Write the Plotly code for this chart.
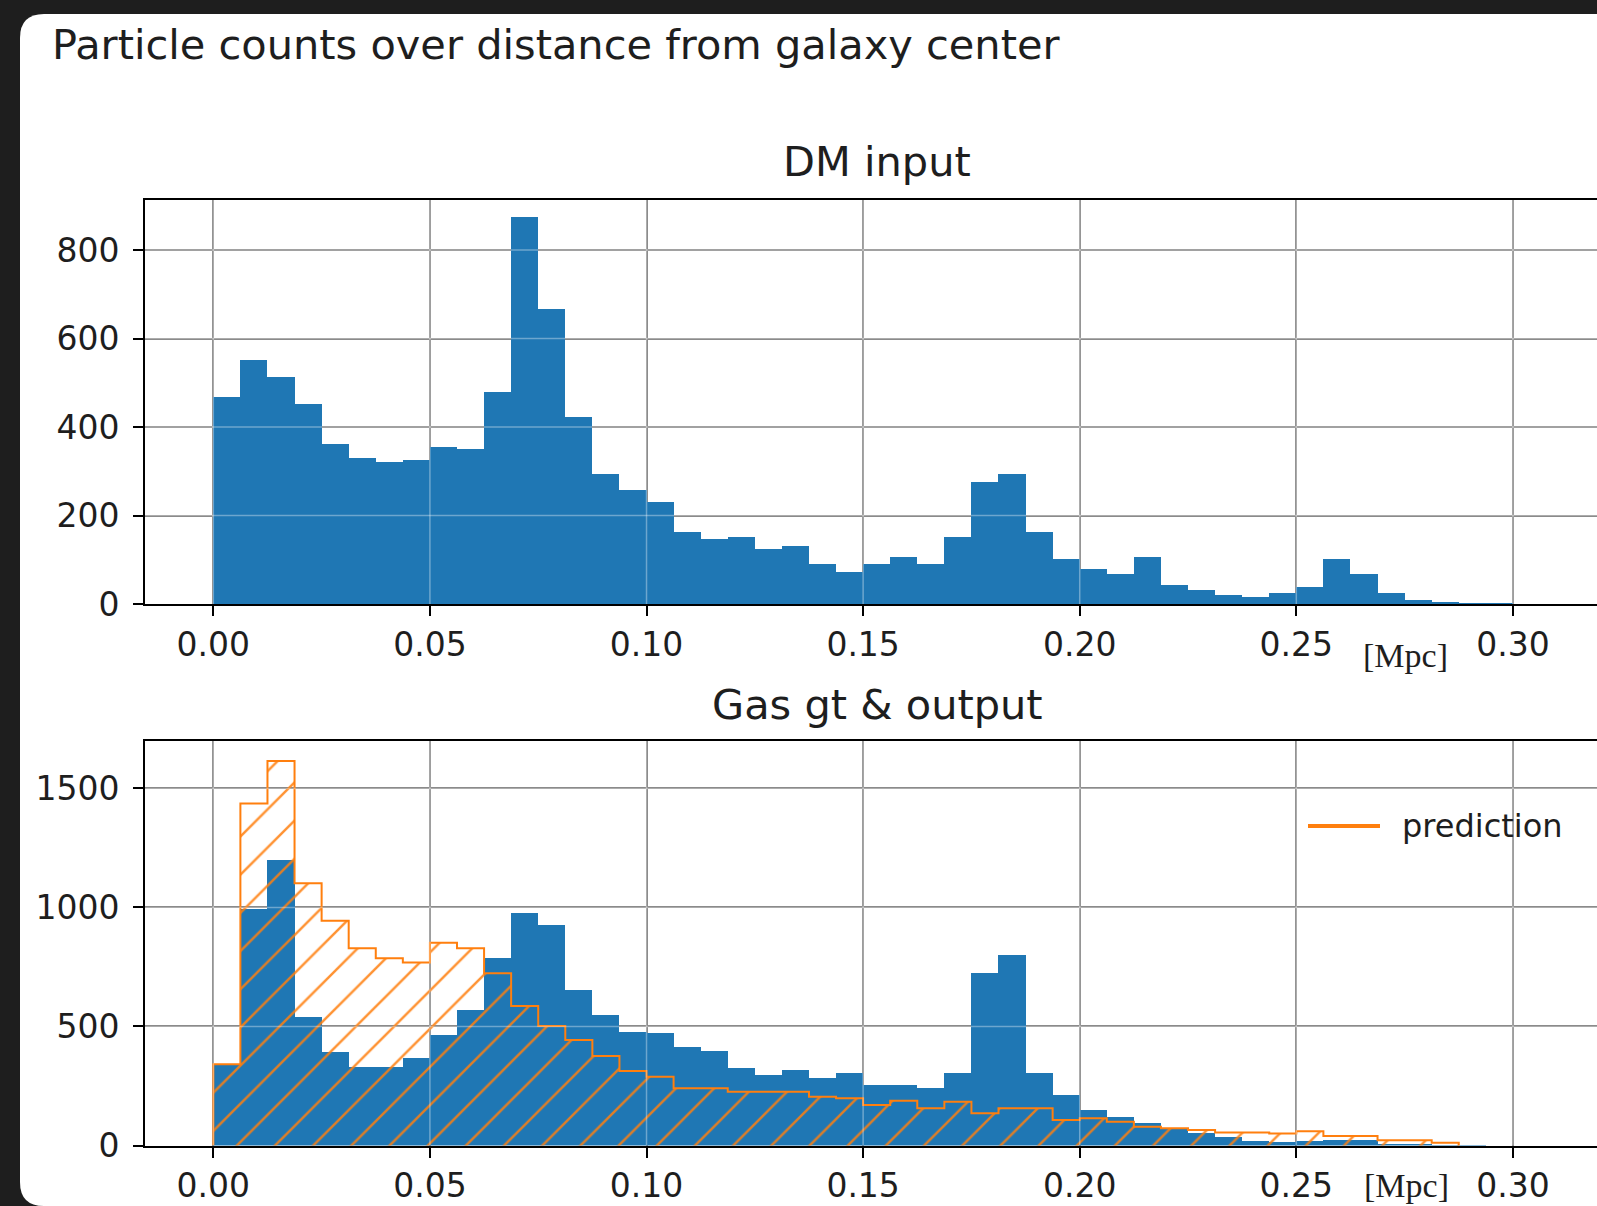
import numpy as np
import plotly.graph_objects as go

# ---------------------------------------------------------------------------
# Histogram data: particle counts per radial bin (distance in Mpc)
# ---------------------------------------------------------------------------
N_BINS = 50
R_MAX = 0.3125
bin_edges = np.linspace(0.0, R_MAX, N_BINS + 1)
bin_width = bin_edges[1] - bin_edges[0]
bin_centers = (bin_edges[:-1] + bin_edges[1:]) / 2

dm_counts = [467, 551, 512, 451, 361, 331, 322, 325, 354, 350,
             478, 875, 666, 423, 293, 258, 230, 163, 146, 152,
             124, 130, 90, 73, 90, 107, 90, 152, 276, 294,
             163, 101, 78, 68, 107, 44, 32, 20, 15, 26,
             38, 101, 67, 26, 9, 4, 2, 1, 0, 0]

gas_counts = [341, 995, 1199, 538, 391, 328, 328, 366, 464, 569,
              789, 978, 926, 653, 548, 475, 474, 412, 398, 327,
              296, 317, 285, 306, 254, 254, 243, 306, 726, 800,
              306, 212, 149, 118, 96, 72, 51, 34, 20, 14,
              20, 25, 25, 8, 4, 2, 1, 0, 0, 0]

pred_counts = [341, 1437, 1615, 1101, 944, 828, 786, 769, 852, 828,
               723, 586, 502, 443, 376, 313, 289, 240, 240, 226,
               226, 226, 205, 198, 170, 188, 156, 184, 135, 156,
               156, 107, 114, 100, 79, 72, 65, 55, 55, 50,
               60, 40, 40, 22, 22, 12, 0, 0, 0, 0]

x_tick_vals = [0.00, 0.05, 0.10, 0.15, 0.20, 0.25, 0.30]
x_tick_text = ["0.00", "0.05", "0.10", "0.15", "0.20", "0.25", "0.30"]
dm_y_ticks = [0, 200, 400, 600, 800]
gas_y_ticks = [0, 500, 1000, 1500]

# ---------------------------------------------------------------------------
# Page geometry (pixels)
# ---------------------------------------------------------------------------
W, H = 1597, 1206


def px(x):
    return x / W


def py(y):
    return 1 - y / H


BLUE = "#1f77b4"
ORANGE = "#ff7f0e"
TEXT = "#1e1e1e"
GRID = "#808080"
FONT = "DejaVu Sans"

x_range = [-0.01577, 0.31941]
x_domain = [px(145), 1.0]
top_domain = [py(604), py(200)]
bot_domain = [py(1145.5), py(741)]

fig = go.Figure()

# DM input histogram
fig.add_trace(go.Bar(
    x=bin_centers, y=dm_counts, width=bin_width,
    marker=dict(color=BLUE, line=dict(width=0)),
    xaxis="x", yaxis="y", showlegend=False, hoverinfo="skip",
))

# Gas ground truth histogram
fig.add_trace(go.Bar(
    x=bin_centers, y=gas_counts, width=bin_width,
    marker=dict(color=BLUE, line=dict(width=0)),
    xaxis="x2", yaxis="y2", showlegend=False, hoverinfo="skip",
))

# Prediction histogram: hatched fill ...
fig.add_trace(go.Bar(
    x=bin_centers, y=pred_counts, width=bin_width,
    marker=dict(
        color="rgba(0,0,0,0)", line=dict(width=0),
        pattern=dict(shape="/", fgcolor=ORANGE, fgopacity=0.85,
                     bgcolor="rgba(0,0,0,0)",
                     size=27, solidity=0.09, fillmode="overlay"),
    ),
    xaxis="x2", yaxis="y2", showlegend=False, hoverinfo="skip",
))

# ... and its step outline (stops after the last non-empty bin)
last = max(i for i, v in enumerate(pred_counts) if v > 0) + 1
step_x = [bin_edges[0]] + list(bin_edges[:last + 1])
step_y = [0] + list(pred_counts[:last]) + [0]
fig.add_trace(go.Scatter(
    x=step_x, y=step_y, mode="lines",
    line=dict(color=ORANGE, width=2, shape="hv"),
    xaxis="x2", yaxis="y2", showlegend=False, hoverinfo="skip",
))

tick_font = dict(family=FONT, size=33, color=TEXT)
common_x = dict(
    domain=x_domain, range=x_range, tickvals=x_tick_vals, ticktext=x_tick_text,
    showgrid=True, gridcolor=GRID, gridwidth=1.5, zeroline=False,
    showline=True, linecolor="black", linewidth=2, mirror=True,
    ticks="outside", ticklen=10, tickwidth=2, tickcolor="black",
    tickfont=tick_font, ticklabelstandoff=0, fixedrange=True, automargin=False,
)
common_y = dict(
    showgrid=True, gridcolor=GRID, gridwidth=1.5, zeroline=False,
    showline=True, linecolor="black", linewidth=2, mirror=False,
    ticks="outside", ticklen=10, tickwidth=2, tickcolor="black",
    tickfont=tick_font, ticklabelstandoff=7, fixedrange=True, automargin=False,
)

fig.update_layout(
    width=W, height=H,
    margin=dict(l=0, r=0, t=0, b=0, pad=0, autoexpand=False),
    paper_bgcolor="#1e1e1e",
    plot_bgcolor="rgba(0,0,0,0)",
    barmode="overlay", bargap=0,
    xaxis=dict(anchor="y", **common_x),
    yaxis=dict(anchor="x", domain=top_domain, range=[0, 913],
               tickvals=dm_y_ticks, **common_y),
    xaxis2=dict(anchor="y2", **common_x),
    yaxis2=dict(anchor="x2", domain=bot_domain, range=[0, 1699],
                tickvals=gas_y_ticks, **common_y),
)

shapes = []

# White card behind the figure, rounded on the left
r = 24
card = (f"M {px(20)},{py(14 + r)} Q {px(20)},{py(14)} {px(20 + r)},{py(14)} "
        f"L {px(W + 40)},{py(14)} L {px(W + 40)},{py(H)} "
        f"L {px(20 + r)},{py(H)} Q {px(20)},{py(H)} {px(20)},{py(H - r)} Z")
shapes.append(dict(type="path", path=card, xref="paper", yref="paper",
                   fillcolor="white", line=dict(width=0), layer="below"))

# Grid lines show through the bars as lighter strokes
OVER = "rgba(255,255,255,0.35)"
for xa, ya, yticks in (("x", "y", dm_y_ticks), ("x2", "y2", gas_y_ticks)):
    for xv in x_tick_vals:
        shapes.append(dict(type="line", xref=xa, yref=f"{ya} domain",
                           x0=xv, x1=xv, y0=0, y1=1,
                           line=dict(color=OVER, width=1.5), layer="above"))
    for yv in yticks[1:]:
        shapes.append(dict(type="line", xref=f"{xa} domain", yref=ya,
                           x0=0, x1=1, y0=yv, y1=yv,
                           line=dict(color=OVER, width=1.5), layer="above"))

# Legend sample line
shapes.append(dict(type="line", xref="paper", yref="paper",
                   x0=px(1308), x1=px(1380), y0=py(826), y1=py(826),
                   line=dict(color=ORANGE, width=4), layer="above"))

fig.update_layout(shapes=shapes)

annotations = [
    dict(text="Particle counts over distance from galaxy center",
         x=px(50), y=py(44), xanchor="left", yanchor="middle",
         font=dict(family=FONT, size=41.5, color=TEXT)),
    dict(text="DM input", x=px(877), y=py(161), xanchor="center", yanchor="middle",
         font=dict(family=FONT, size=41.5, color=TEXT)),
    dict(text="Gas gt & output", x=px(877), y=py(705), xanchor="center", yanchor="middle",
         font=dict(family=FONT, size=41.5, color=TEXT)),
    dict(text="[Mpc]", x=px(1405), y=py(655), xanchor="center", yanchor="middle",
         font=dict(family="Liberation Serif", size=34, color=TEXT)),
    dict(text="[Mpc]", x=px(1406), y=py(1185), xanchor="center", yanchor="middle",
         font=dict(family="Liberation Serif", size=34, color=TEXT)),
    dict(text="prediction", x=px(1400), y=py(826), xanchor="left", yanchor="middle",
         font=dict(family=FONT, size=32, color=TEXT)),
]
for a in annotations:
    a.update(xref="paper", yref="paper", showarrow=False)
fig.update_layout(annotations=annotations)

fig.write_html("out.html", config={"displayModeBar": False})
